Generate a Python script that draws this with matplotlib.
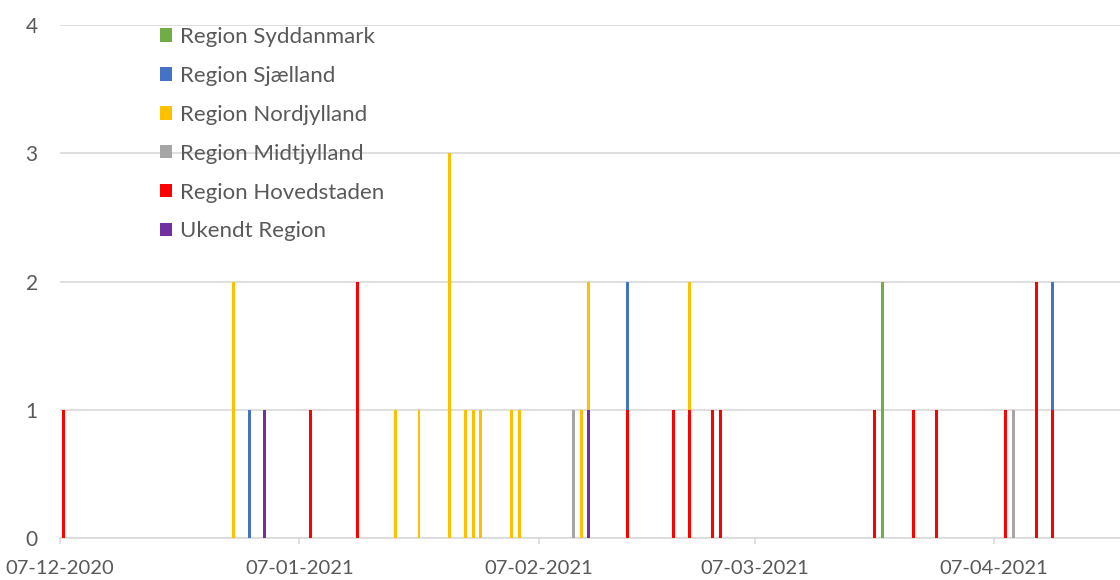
import pandas as pd
import numpy as np
import matplotlib
matplotlib.use("Agg")
import matplotlib.pyplot as plt
import matplotlib.dates as mdates

plt.rcParams['font.family'] = ['Lato', 'DejaVu Sans']

# daily counts per region (only days with cases)
hovedstaden_dates = ['2020-12-07', '2021-01-08', '2021-01-14', '2021-02-18', '2021-02-24',
                     '2021-02-26', '2021-03-01', '2021-03-02', '2021-03-22', '2021-03-27',
                     '2021-03-30', '2021-04-08', '2021-04-12', '2021-04-14']
hovedstaden_vals = [1, 1, 2, 1, 1, 1, 1, 1, 1, 1, 1, 1, 2, 1]

nordjylland_dates = ['2020-12-29', '2021-01-19', '2021-01-22', '2021-01-26', '2021-01-28',
                     '2021-01-29', '2021-01-30', '2021-02-03', '2021-02-04', '2021-02-12',
                     '2021-02-13', '2021-02-26']
nordjylland_vals = [2, 1, 1, 3, 1, 1, 1, 1, 1, 1, 1, 1]

sjaelland_dates = ['2020-12-31', '2021-02-18', '2021-04-14']
sjaelland_vals = [1, 1, 1]

ukendt_dates = ['2021-01-02', '2021-02-13']
ukendt_vals = [1, 1]

midtjylland_dates = ['2021-02-11', '2021-04-09']
midtjylland_vals = [1, 1]

syddanmark_dates = ['2021-03-23']
syddanmark_vals = [2]

# stack order bottom -> top
series = [
    ('Ukendt Region', ukendt_dates, ukendt_vals, '#7030A0'),
    ('Region Hovedstaden', hovedstaden_dates, hovedstaden_vals, '#FF0000'),
    ('Region Midtjylland', midtjylland_dates, midtjylland_vals, '#A5A5A5'),
    ('Region Nordjylland', nordjylland_dates, nordjylland_vals, '#FFC000'),
    ('Region Sjælland', sjaelland_dates, sjaelland_vals, '#4472C4'),
    ('Region Syddanmark', syddanmark_dates, syddanmark_vals, '#70AD47'),
]

days = pd.date_range('2020-12-07', '2021-04-20', freq='D')
df = pd.DataFrame(index=days)
for name, dts, vals, col in series:
    s = pd.Series(vals, index=pd.to_datetime(dts))
    df[name] = s.reindex(days).fillna(0)

fig = plt.figure(figsize=(11.2, 5.8), dpi=100)
ax = fig.add_axes([60/1120, 1 - 538/580, 1 - 60/1120, (538 - 25)/580])

x = mdates.date2num(days) + 0.5
bottom = np.zeros(len(days))
handles = []
for name, dts, vals, col in series:
    h = ax.bar(x, df[name].values, width=0.38, bottom=bottom, color=col, label=name,
               linewidth=0, zorder=3)
    bottom += df[name].values
    handles.append(h)

start = mdates.date2num(pd.Timestamp('2020-12-07'))
ax.set_xlim(start, start + 137.3)
ax.set_ylim(0, 4)
ax.set_yticks([0, 1, 2, 3, 4])

ticks = pd.to_datetime(['2020-12-07', '2021-01-07', '2021-02-07', '2021-03-07', '2021-04-07'])
ax.set_xticks(mdates.date2num(ticks))
ax.xaxis.set_major_formatter(mdates.DateFormatter('%d-%m-%Y'))

ax.grid(axis='y', color='#D9D9D9', linewidth=1.2, zorder=0)
for sp in ['top', 'right', 'left']:
    ax.spines[sp].set_visible(False)
ax.spines['bottom'].set_color('#D9D9D9')
ax.spines['bottom'].set_linewidth(1.2)
ax.tick_params(axis='x', colors='#D9D9D9', length=4, width=1.2, pad=12,
               labelcolor='#595959', labelsize=14.5)
ax.tick_params(axis='y', length=0, pad=16, labelcolor='#595959', labelsize=15)

leg = ax.legend(handles[::-1], [s[0] for s in series][::-1], loc='upper left',
                bbox_to_anchor=(160/1120, 1 - 27/580), bbox_transform=fig.transFigure,
                frameon=False, fontsize=16, handlelength=0.55, handleheight=0.55,
                handletextpad=0.35, labelspacing=0.85, borderpad=0, borderaxespad=0)
for t in leg.get_texts():
    t.set_color('#595959')

fig.savefig('out.png', dpi=100)
